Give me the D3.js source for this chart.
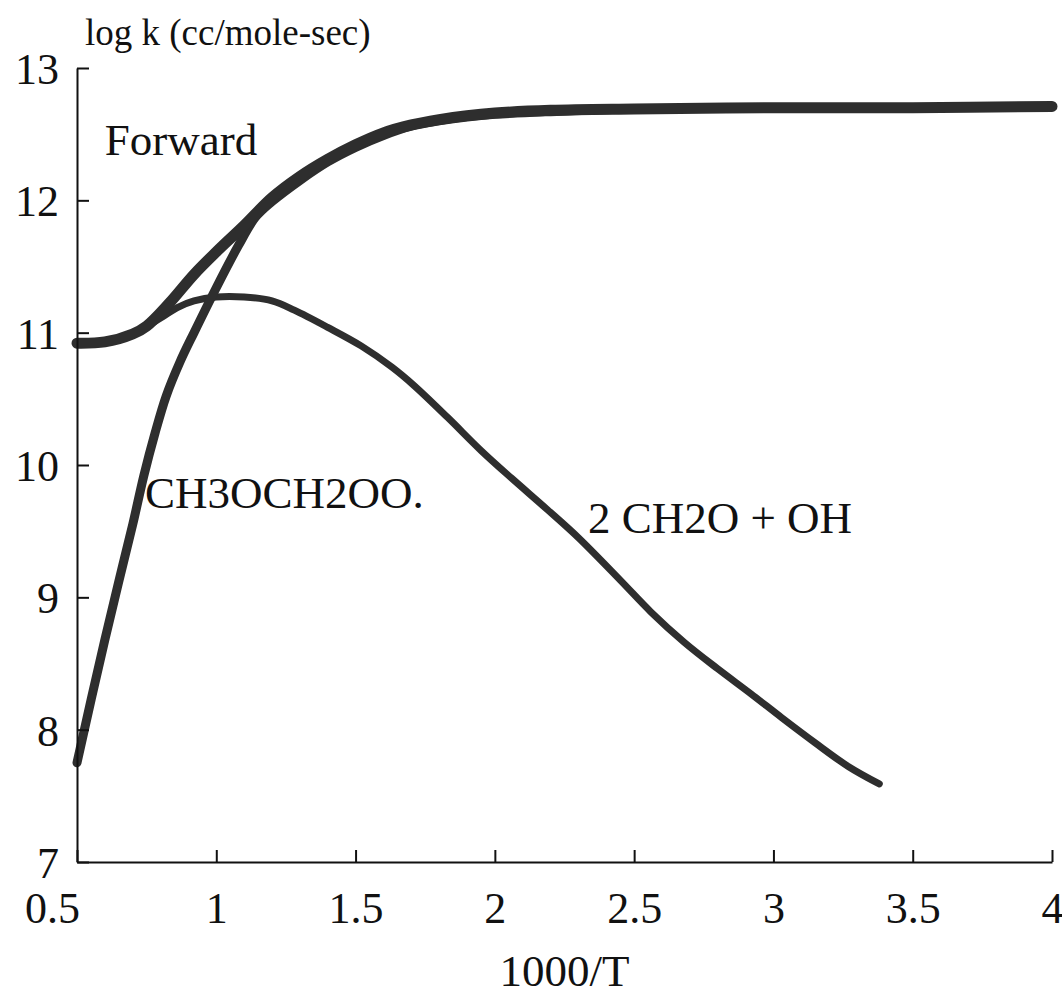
<!DOCTYPE html>
<html>
<head>
<meta charset="utf-8">
<script src="https://cdn.jsdelivr.net/npm/d3@7"></script>
<style>
  body { margin: 0; background: #fff; }
</style>
</head>
<body>
<div id="vis"></div>
<script>
// values: x = 1000/T, y = log k
let forward_x = [0.5, 0.6, 0.7, 0.75, 0.83, 0.92, 1.0, 1.1, 1.2, 1.3, 1.4, 1.5, 1.6, 1.7, 1.8, 1.9, 2.0, 2.2, 2.5, 3.0, 3.5, 4.0]
let forward_y = [10.92, 10.93, 10.99, 11.05, 11.22, 11.44, 11.61, 11.81, 12.02, 12.18, 12.31, 12.42, 12.51, 12.57, 12.61, 12.64, 12.66, 12.68, 12.69, 12.70, 12.70, 12.71]

let adduct_x = [0.5, 0.55, 0.6, 0.65, 0.7, 0.74, 0.78, 0.82, 0.87, 0.92, 1.0, 1.08, 1.14, 1.2, 1.3, 1.4, 1.5, 1.6, 1.7, 1.8, 1.9, 2.0, 2.2, 2.5, 3.0, 3.5, 4.0]
let adduct_y = [7.75, 8.22, 8.68, 9.12, 9.55, 9.92, 10.24, 10.52, 10.78, 11.0, 11.34, 11.66, 11.87, 11.99, 12.15, 12.29, 12.40, 12.49, 12.56, 12.60, 12.63, 12.65, 12.67, 12.69, 12.70, 12.70, 12.71]

let products_x = [0.5, 0.6, 0.7, 0.8, 0.86, 0.92, 1.0, 1.1, 1.2, 1.28, 1.4, 1.52, 1.63, 1.71, 1.83, 1.95, 2.06, 2.19, 2.3, 2.45, 2.56, 2.68, 2.8, 2.92, 3.03, 3.15, 3.27, 3.38]
let products_y = [10.92, 10.93, 10.99, 11.11, 11.19, 11.24, 11.27, 11.27, 11.24, 11.17, 11.04, 10.90, 10.74, 10.60, 10.36, 10.11, 9.90, 9.66, 9.45, 9.13, 8.89, 8.66, 8.46, 8.27, 8.09, 7.90, 7.72, 7.59]

let x_ticks = [0.5, 1, 1.5, 2, 2.5, 3, 3.5, 4]
let y_ticks = [7, 8, 9, 10, 11, 12, 13]

let series = [
    {name: "2 CH2O + OH", xs: products_x, ys: products_y, width: 7, lx: 2.334, ly: 9.485},
    {name: "CH3OCH2OO.", xs: adduct_x, ys: adduct_y, width: 9, lx: 0.744, ly: 9.674},
    {name: "Forward", xs: forward_x, ys: forward_y, width: 11, lx: 0.6, ly: 12.34},
]

let font = '"Liberation Serif", "Times New Roman", "DejaVu Serif", serif'
let width = 1062, height = 1000
let margin = {left: 77, right: 10, top: 68, bottom: 138}

let x = d3.scaleLinear().domain([0.5, 4]).range([margin.left, width - margin.right])
let y = d3.scaleLinear().domain([7, 13]).range([height - margin.bottom, margin.top])

let svg = d3.select("#vis").append("svg")
    .attr("width", width)
    .attr("height", height)
    .attr("font-family", font)

let line = d3.line()
    .x(d => x(d[0]))
    .y(d => y(d[1]))
    .curve(d3.curveCatmullRom.alpha(0.5))

svg.append("g")
    .selectAll("path")
    .data(series)
    .join("path")
    .attr("fill", "none")
    .attr("stroke", "#2e2e2e")
    .attr("stroke-linecap", "round")
    .attr("stroke-linejoin", "round")
    .attr("stroke-width", d => d.width)
    .attr("d", d => line(d.xs.map((v, i) => [v, d.ys[i]])))

// axes, ticks point inward
let xAxis = svg.append("g")
    .attr("transform", `translate(0,${y(7)})`)
    .call(d3.axisBottom(x).tickValues(x_ticks).tickFormat(d3.format("")).tickSizeInner(-12).tickSizeOuter(0).tickPadding(30))
let yAxis = svg.append("g")
    .attr("transform", `translate(${x(0.5)},0)`)
    .call(d3.axisLeft(y).tickValues(y_ticks).tickFormat(d3.format("d")).tickSizeInner(-12).tickSizeOuter(0).tickPadding(18))

svg.selectAll(".domain, .tick line").attr("stroke", "#111").attr("stroke-width", 2)
xAxis.attr("font-family", font)
yAxis.attr("font-family", font)
xAxis.selectAll("text").attr("font-size", 44).attr("fill", "#111")
yAxis.selectAll("text").attr("font-size", 44).attr("fill", "#111").attr("dy", "0.35em")
xAxis.selectAll(".tick").filter(d => d == 0.5).select("text").attr("x", -25)

svg.append("text")
    .attr("x", 85)
    .attr("y", 45)
    .attr("font-size", 37)
    .attr("fill", "#111")
    .text("log k (cc/mole-sec)")

svg.append("text")
    .attr("x", (x(0.5) + x(4)) / 2)
    .attr("y", 986)
    .attr("text-anchor", "middle")
    .attr("font-size", 45)
    .attr("fill", "#111")
    .text("1000/T")

// curve labels
svg.append("g")
    .selectAll("text")
    .data(series)
    .join("text")
    .attr("x", d => x(d.lx))
    .attr("y", d => y(d.ly))
    .attr("font-size", 45)
    .attr("fill", "#111")
    .text(d => d.name)
</script>
</body>
</html>
